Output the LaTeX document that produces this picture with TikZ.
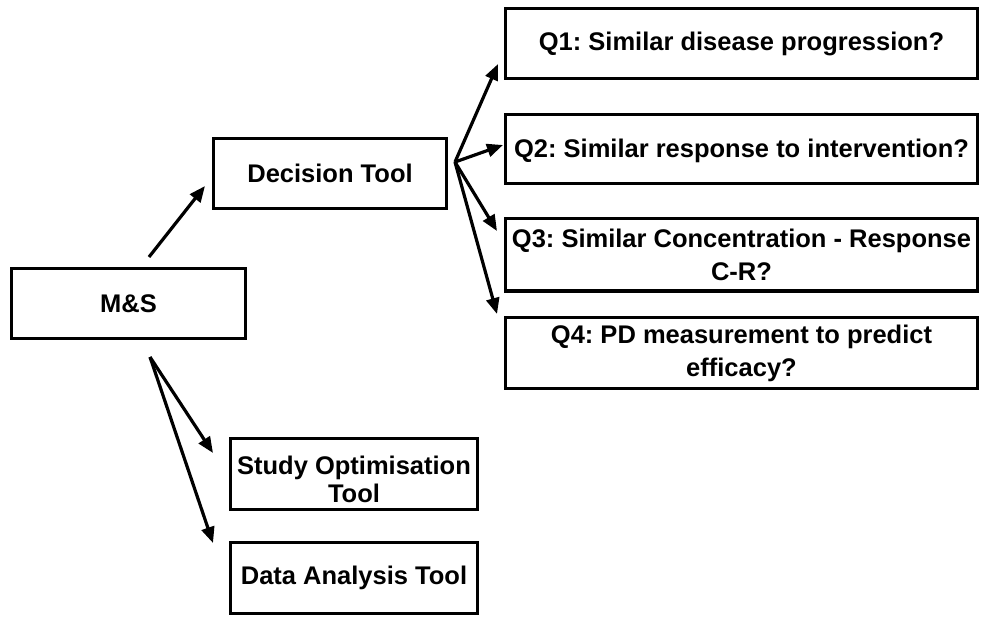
\documentclass[tikz,border=0pt]{standalone}
\usepackage{fontspec}
\setmainfont{Liberation Sans}
\frenchspacing
\usetikzlibrary{arrows.meta}
\begin{document}
\begin{tikzpicture}[x=1pt,y=-1pt,
  box/.style={draw=black,line width=3.6pt,rectangle,inner sep=0pt,align=center,
    font=\fontsize{25.5}{30}\selectfont\bfseries},
  arr/.style={line width=3.2pt,-{Triangle[length=16pt,width=13pt]}}]
\useasboundingbox (0,0) rectangle (981,619);
\node[box,minimum width=234pt,minimum height=70pt] (ms) at (128.5,303.5) {M\&S};
\node[box,minimum width=233pt,minimum height=70pt] (dt) at (330,173.5) {Decision Tool};
\node[box,minimum width=472pt,minimum height=70pt] (q1) at (741.5,43.5) {Q1: Similar disease progression?};
\node[box,minimum width=472pt,minimum height=69pt] (q2) at (741.5,149) {\rule{0pt}{22pt}Q2: Similar response to intervention?};
\node[box,minimum width=472pt,minimum height=72.5pt,font=\fontsize{25.5}{33}\selectfont\bfseries] (q3) at (741.5,254.75) {Q3: Similar Concentration - Response\\C-R?};
\node[box,minimum width=472pt,minimum height=71pt,font=\fontsize{25.5}{33}\selectfont\bfseries] (q4) at (741.5,353) {Q4: PD measurement to predict\\efficacy?};
\node[box,minimum width=247pt,minimum height=71pt,font=\fontsize{25.5}{28}\selectfont\bfseries] (so) at (354,474) {\rule{0pt}{30pt}Study Optimisation\\Tool};
\node[box,minimum width=247pt,minimum height=71pt] (da) at (354,578) {Data Analysis Tool};
% arrow start / end points
\coordinate (msT) at (149,257);
\coordinate (dtL) at (205,186);
\coordinate (dtR) at (455,162);
\coordinate (q1L) at (498,64);
\coordinate (q2L) at (503,145);
\coordinate (q3L) at (497,231);
\coordinate (q4L) at (497,314);
\coordinate (msB) at (150,357);
\coordinate (soL) at (213,453);
\coordinate (daL) at (213,543);
\draw[arr] (msT) -- (dtL);
\draw[arr] (dtR) -- (q1L);
\draw[arr] (dtR) -- (q2L);
\draw[arr] (dtR) -- (q3L);
\draw[arr] (dtR) -- (q4L);
\draw[arr] (msB) -- (soL);
\draw[arr] (msB) -- (daL);
\end{tikzpicture}
\end{document}
